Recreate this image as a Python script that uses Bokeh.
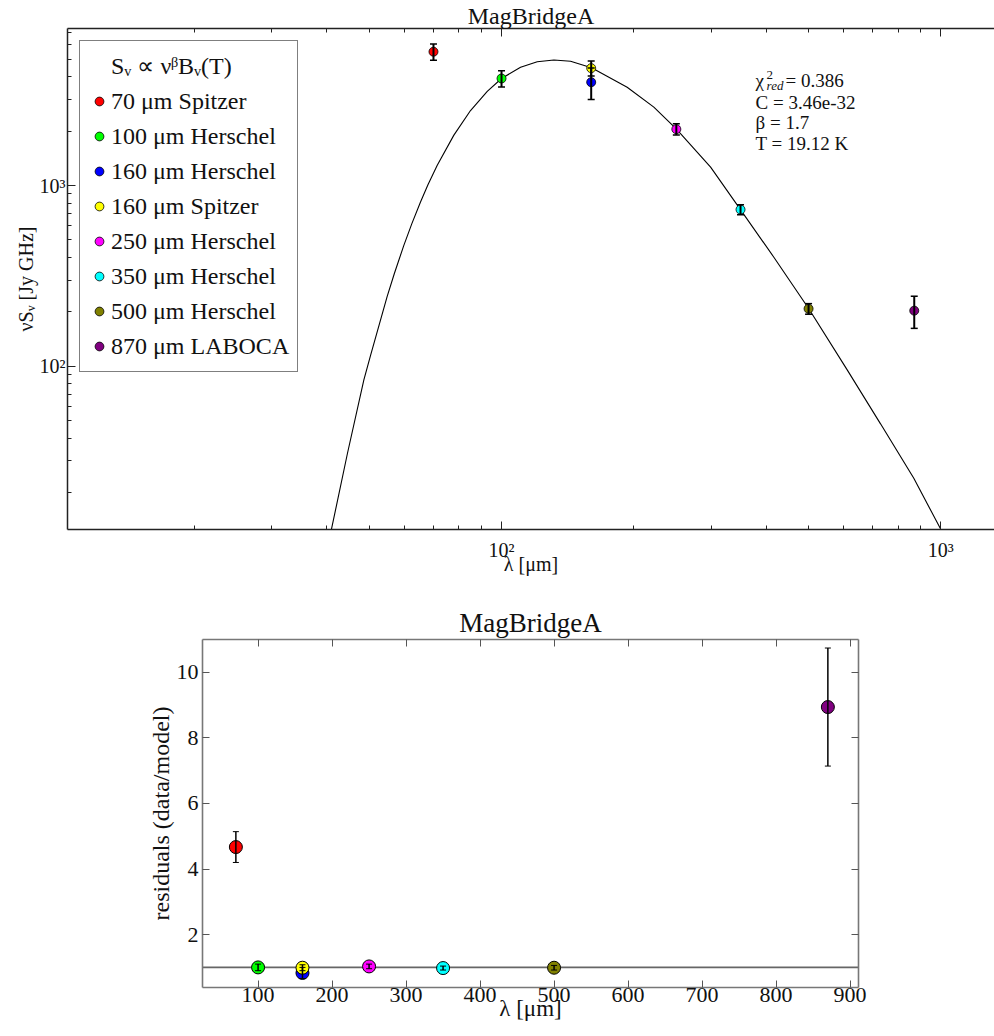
from bokeh.plotting import figure
from bokeh.models import (ColumnDataSource, Whisker, TeeHead, FixedTicker, LogAxis,
                          LinearAxis, Range1d, Legend, LegendItem, Span, Label,
                          CustomLabelingPolicy)
from bokeh.layouts import column
from bokeh.embed import file_html
from bokeh.resources import INLINE

# ---------------- data ----------------
title_text = "MagBridgeA"
bands = ["70 μm Spitzer", "100 μm Herschel", "160 μm Herschel", "160 μm Spitzer",
         "250 μm Herschel", "350 μm Herschel", "500 μm Herschel", "870 μm LABOCA"]
wavelength = [70, 100, 160, 160, 250, 350, 500, 870]
nu_s_nu = [5500, 3910, 3730, 4460, 2050, 736, 208, 203]
nu_s_nu_err = [560, 400, 740, 420, 145, 47, 14, 41]
band_colors = ["#ff0000", "#00ff00", "#0000ff", "#ffff00",
               "#ff00ff", "#00ffff", "#808000", "#800080"]
residual = [4.67, 1.00, 0.83, 0.99, 1.03, 0.98, 0.99, 8.94]
residual_err = [0.47, 0.10, 0.17, 0.09, 0.07, 0.06, 0.07, 1.80]

model_label = "Sᵥ ∝ νᵝBᵥ(T)"
model_wavelength = [41.0, 44.6, 48.6, 50.3, 54.9, 57.0, 59.9, 62.5, 65.4, 68.0, 71.4,
                    77.9, 85.0, 92.8, 100.0, 110.5, 120.6, 131.6, 143.6, 160.3,
                    193.2, 222.2, 250.2, 299.2, 349.9, 416.8, 500.6, 612.2, 729.1,
                    868.0, 998.4]
model_nu_s_nu = [12.5, 33, 84, 114, 243, 325, 465, 615, 810, 1010, 1295,
                 1900, 2600, 3320, 3910, 4510, 4840, 4950, 4870, 4480,
                 3499, 2713, 2049, 1263, 736, 401, 208, 95.5, 48.0,
                 24.0, 12.6]

fit_lines = ["C = 3.46e-32", "β = 1.7", "T = 19.12 K"]
chi2_text = "= 0.386"

log_major = [100, 1000]
log_major_labels = {100: "10²", 1000: "10³"}
log_minor = [m * 10 ** e for e in (1, 2, 3) for m in range(2, 10)]
res_x_ticks = [100, 200, 300, 400, 500, 600, 700, 800, 900]
res_y_ticks = [2, 4, 6, 8, 10]
reference_level = 1.0

SERIF = "Liberation Serif"
TXT = "#111111"

def no_labels():
    return CustomLabelingPolicy(code="return []")

def style_title(fig, size, standoff):
    fig.title.text = title_text
    fig.title.align = "center"
    fig.title.text_font = SERIF
    fig.title.text_font_size = size
    fig.title.text_font_style = "normal"
    fig.title.text_color = TXT
    fig.title.standoff = standoff

# ---------------- top: SED ----------------
p = figure(width=994, height=585, x_axis_type="log", y_axis_type="log",
           x_range=Range1d(10.28, 1325), y_range=Range1d(12.49, 7393),
           output_backend="svg", toolbar_location=None,
           min_border_left=67, min_border_right=0, min_border_top=28, min_border_bottom=56)
p.frame_align = False
p.outline_line_color = None
p.grid.visible = False
style_title(p, "24px", -8)

def style_log_axis(ax, show_labels=True):
    ax.ticker = FixedTicker(ticks=log_major, minor_ticks=log_minor)
    ax.major_label_overrides = log_major_labels
    ax.major_tick_in = 8
    ax.major_tick_out = 0
    ax.minor_tick_in = 4
    ax.minor_tick_out = 0
    ax.axis_line_color = "#222222"
    ax.axis_line_width = 1.5
    ax.major_tick_line_color = "#222222"
    ax.minor_tick_line_color = "#222222"
    ax.major_label_text_font = SERIF
    ax.major_label_text_color = TXT
    ax.axis_label_text_font = SERIF
    ax.axis_label_text_font_style = "normal"
    ax.axis_label_text_color = TXT
    if show_labels:
        ax.major_label_text_font_size = "20px"
        ax.axis_label_text_font_size = "20px"
    else:
        ax.major_label_policy = no_labels()
        ax.major_label_text_font_size = "1px"
        ax.major_label_standoff = 0

style_log_axis(p.xaxis[0])
style_log_axis(p.yaxis[0])
p.xaxis.axis_label = "λ [μm]"
p.xaxis.major_label_standoff = 9
p.xaxis.axis_label_standoff = -11
p.yaxis.axis_label = "νSᵥ [Jy GHz]"
p.yaxis.major_label_standoff = 2
p.yaxis.axis_label_standoff = 0

top_ax = LogAxis()
style_log_axis(top_ax, show_labels=False)
p.add_layout(top_ax, "above")

src = ColumnDataSource(dict(
    x=wavelength, y=nu_s_nu,
    upper=[v + e for v, e in zip(nu_s_nu, nu_s_nu_err)],
    lower=[v - e for v, e in zip(nu_s_nu, nu_s_nu_err)],
    color=band_colors, label=bands))

r_model = p.line(model_wavelength, model_nu_s_nu, line_color="black", line_width=1.1)
r_pts = p.scatter("x", "y", source=src, size=9, fill_color="color",
                  line_color="black", line_width=0.8)
p.add_layout(Whisker(base="x", upper="upper", lower="lower", source=src, level="overlay",
                     line_color="black", line_width=2,
                     upper_head=TeeHead(size=7, line_color="black", line_width=1.5),
                     lower_head=TeeHead(size=7, line_color="black", line_width=1.5)))
r_dot = p.scatter(x=[], y=[], marker="dot", size=9, color="black")

items = [LegendItem(label=model_label, renderers=[r_dot])]
items += [LegendItem(label=b, renderers=[r_pts], index=i) for i, b in enumerate(bands)]
legend = Legend(items=items, location="top_left", margin=12,
                border_line_color="black", border_line_width=1,
                background_fill_color="white", background_fill_alpha=1,
                label_text_font=SERIF, label_text_font_size="24px", label_text_color=TXT,
                label_height=34, glyph_height=34, glyph_width=22, label_standoff=1,
                spacing=1, padding=8)
p.add_layout(legend)

# fit parameter text
ax_x, ax_y = 378.7, 3802
lab_kw = dict(text_font=SERIF, text_color=TXT, text_baseline="middle", text_align="left")
p.add_layout(Label(x=ax_x, y=ax_y, text="χ", text_font_size="19px", **lab_kw))
p.add_layout(Label(x=ax_x, y=ax_y, x_offset=11, y_offset=6, text="2", text_font_size="13px", **lab_kw))
p.add_layout(Label(x=ax_x, y=ax_y, x_offset=11, y_offset=-5, text="red",
                   text_font_size="13px", text_font_style="italic", **lab_kw))
p.add_layout(Label(x=ax_x, y=ax_y, x_offset=30, text=chi2_text, text_font_size="19px", **lab_kw))
for k, t in enumerate(fit_lines):
    p.add_layout(Label(x=ax_x, y=ax_y, y_offset=-21.5 * (k + 1) + (1.5 if k else 0),
                       text=t, text_font_size="19px", **lab_kw))

# ---------------- bottom: residuals ----------------
p2 = figure(width=994, height=451, x_range=Range1d(24.9, 911.4), y_range=Range1d(0.387, 11.0),
            output_backend="svg", toolbar_location=None,
            min_border_left=202, min_border_right=136, min_border_top=54, min_border_bottom=49)
p2.frame_align = False
p2.outline_line_color = None
p2.grid.visible = False
style_title(p2, "27px", -5)

def style_lin_axis(ax, ticks, show_labels=True):
    ax.ticker = FixedTicker(ticks=ticks)
    ax.major_tick_in = 7
    ax.major_tick_out = 0
    ax.minor_tick_in = 0
    ax.minor_tick_out = 0
    ax.axis_line_color = "#777777"
    ax.axis_line_width = 1.6
    ax.major_tick_line_color = "#555555"
    ax.major_label_text_font = SERIF
    ax.major_label_text_color = TXT
    ax.axis_label_text_font = SERIF
    ax.axis_label_text_font_style = "normal"
    ax.axis_label_text_color = TXT
    if show_labels:
        ax.major_label_text_font_size = "22px"
        ax.axis_label_text_font_size = "23px"
    else:
        ax.major_label_policy = no_labels()
        ax.major_label_text_font_size = "1px"
        ax.major_label_standoff = 0

style_lin_axis(p2.xaxis[0], res_x_ticks)
style_lin_axis(p2.yaxis[0], res_y_ticks)
p2.xaxis.axis_label = "λ [μm]"
p2.xaxis.major_label_standoff = 0
p2.xaxis.axis_label_standoff = -9
p2.yaxis.axis_label = "residuals (data/model)"
p2.yaxis.major_label_standoff = 4
p2.yaxis.axis_label_standoff = 0
p2.yaxis.axis_label_text_font_size = "24px"

ax_t = LinearAxis()
style_lin_axis(ax_t, res_x_ticks, show_labels=False)
p2.add_layout(ax_t, "above")
ax_r = LinearAxis()
style_lin_axis(ax_r, res_y_ticks, show_labels=False)
p2.add_layout(ax_r, "right")

p2.add_layout(Span(location=reference_level, dimension="width", line_color="#666666",
                   line_width=1.6, level="underlay"))

src2 = ColumnDataSource(dict(
    x=wavelength, y=residual,
    upper=[v + e for v, e in zip(residual, residual_err)],
    lower=[v - e for v, e in zip(residual, residual_err)],
    color=band_colors))
p2.scatter("x", "y", source=src2, size=13, fill_color="color", line_color="black", line_width=1)
p2.add_layout(Whisker(base="x", upper="upper", lower="lower", source=src2, level="overlay",
                      line_color="black", line_width=1.5,
                      upper_head=TeeHead(size=6, line_color="black", line_width=1),
                      lower_head=TeeHead(size=6, line_color="black", line_width=1)))

layout = column(p, p2)
open("out.html", "w").write(file_html(layout, INLINE))
